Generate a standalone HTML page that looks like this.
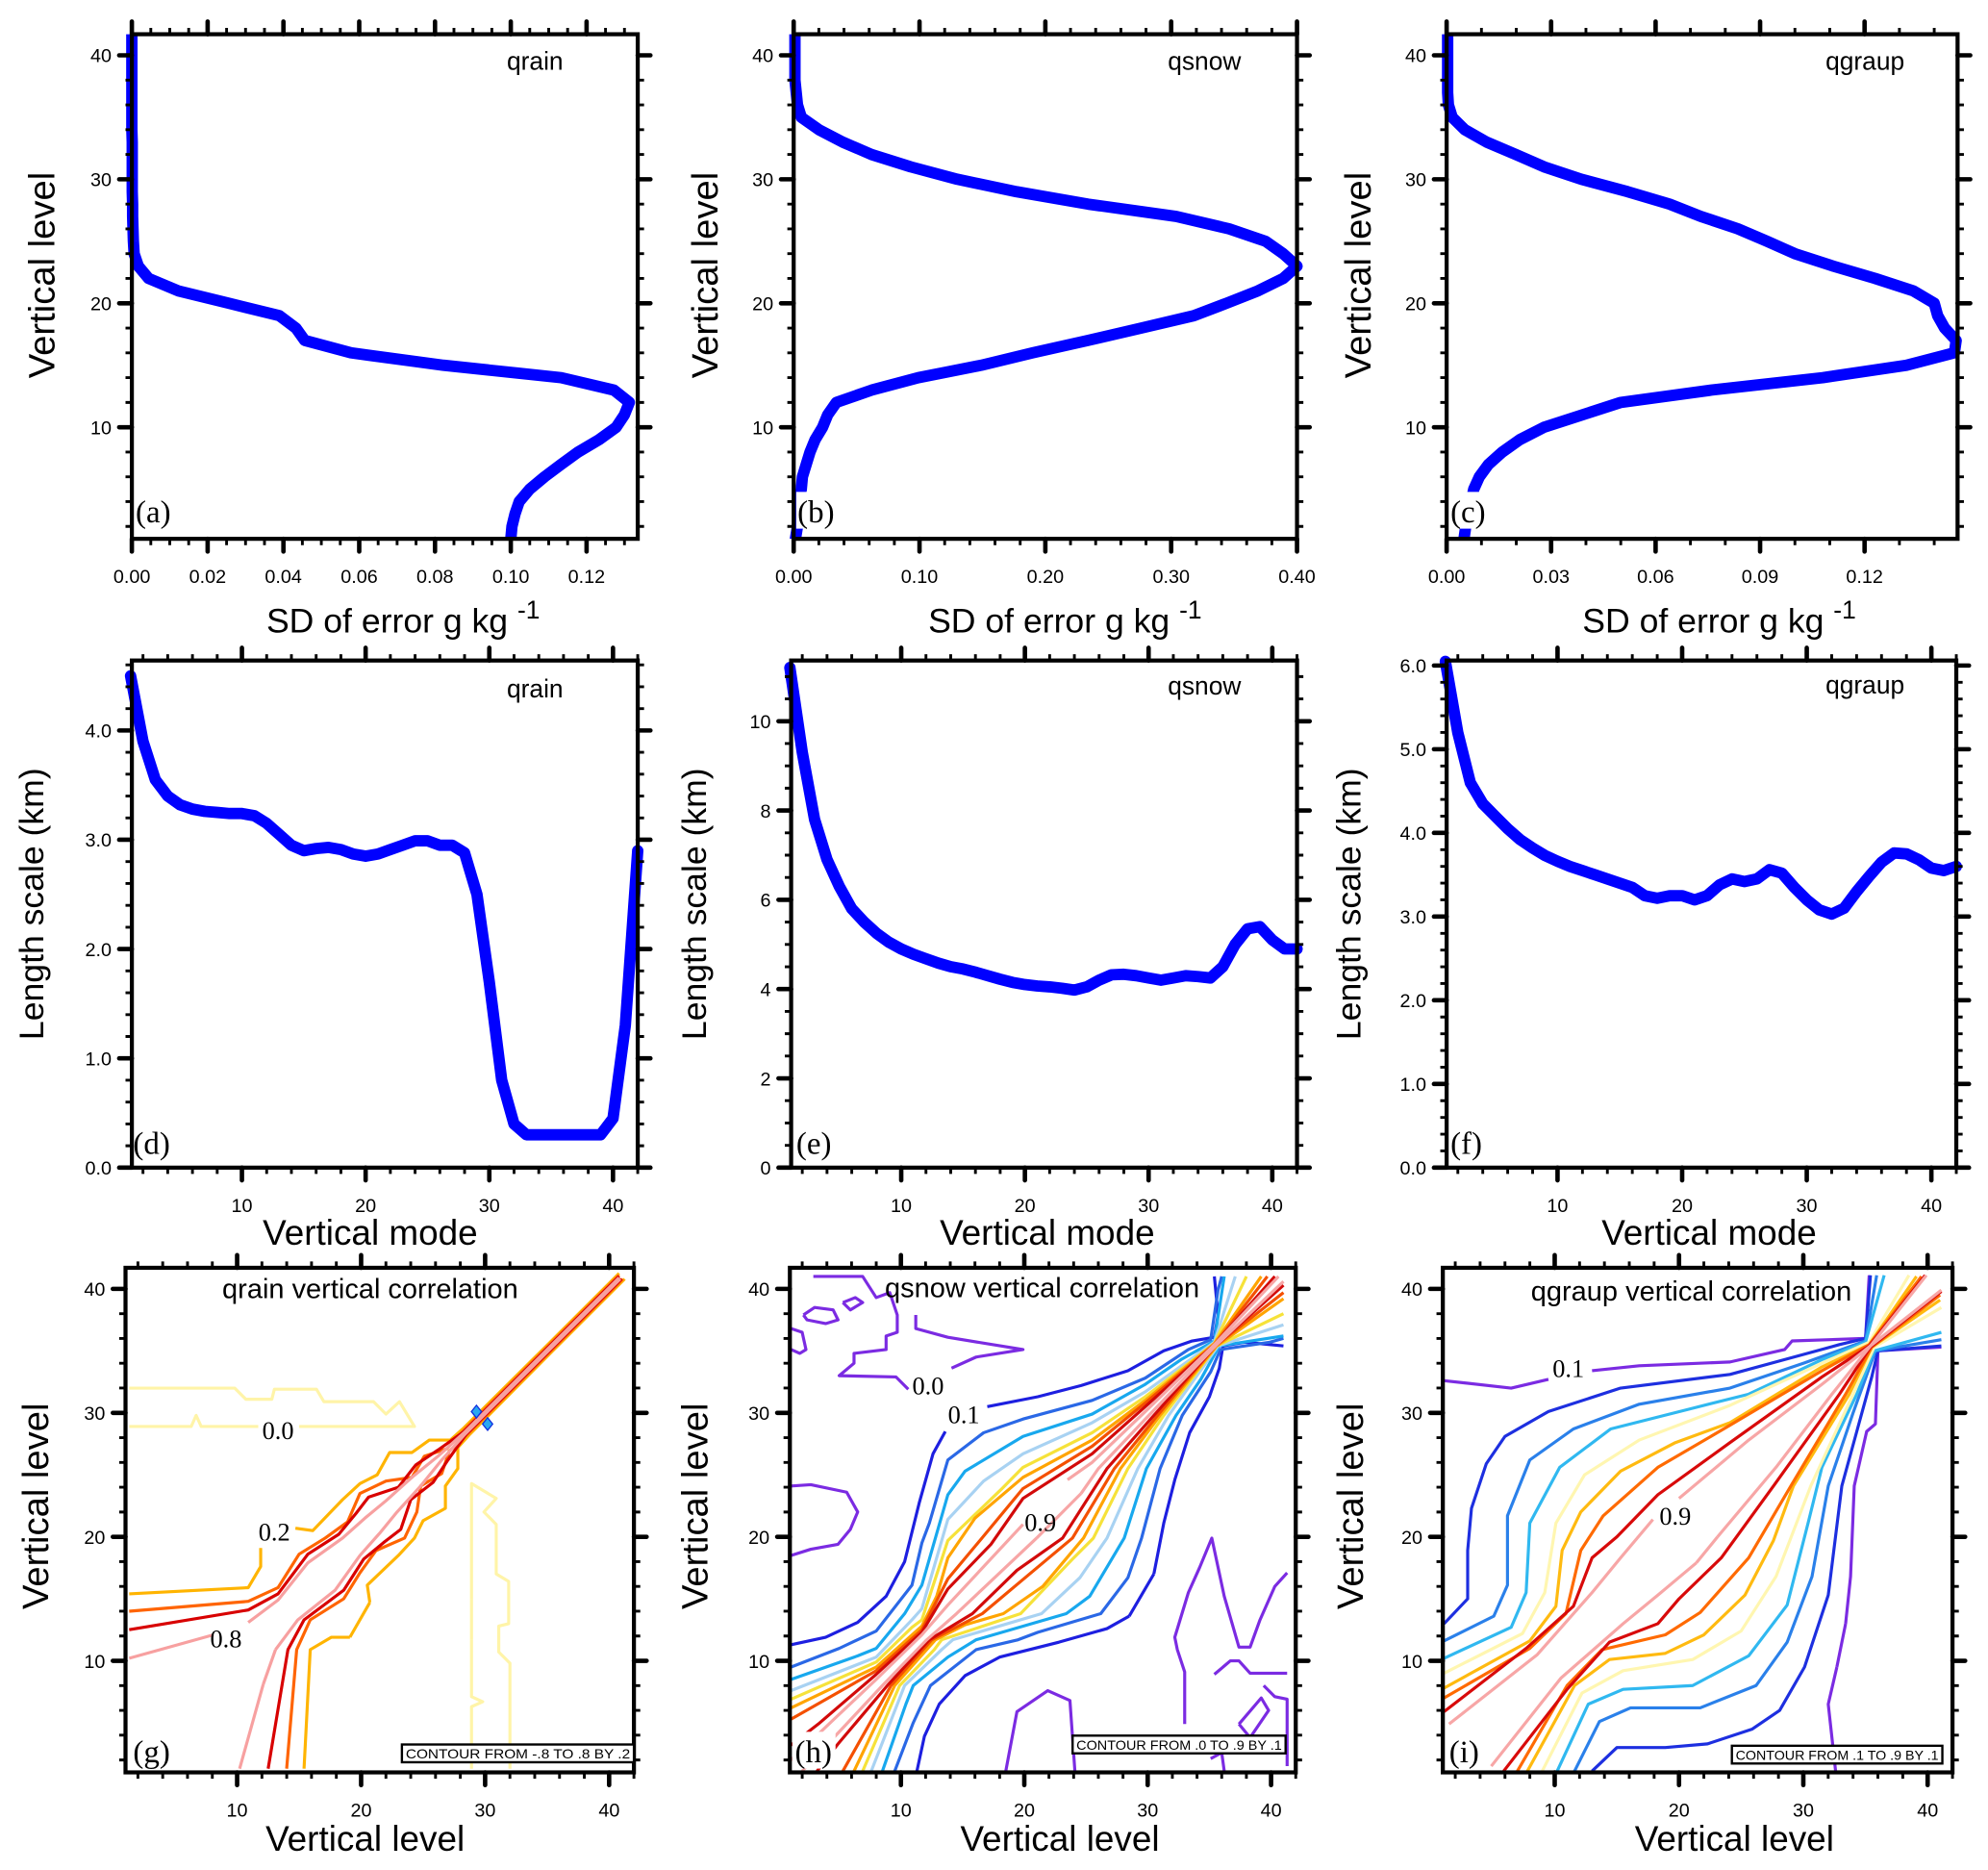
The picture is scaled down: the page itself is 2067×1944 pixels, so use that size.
<!DOCTYPE html>
<html><head><meta charset="utf-8"><title>Error statistics panels</title>
<style>
html,body{margin:0;padding:0;background:#fff;}
svg{display:block;}
text{font-family:"Liberation Sans",Arial,sans-serif;fill:#000;}
.serif{font-family:"Liberation Serif","Times New Roman",serif;}
</style></head>
<body>
<svg id="chart" xmlns="http://www.w3.org/2000/svg" width="2067" height="1944" viewBox="0 0 1568 1475" preserveAspectRatio="none"></svg>
<script>
// ---------- data ----------
const levels = [1,2,3,4,5,6,7,8,9,10,11,12,13,14,15,16,17,18,19,20,21,22,23,24,25,26,27,28,29,30,31,32,33,34,35,36,37,38,39,40,41,42];
const sdRain = [0.100,0.1003,0.1011,0.1022,0.105,0.1089,0.1133,0.1178,0.1233,0.1278,0.130,0.1313,0.1272,0.1133,0.0822,0.0578,0.0456,0.0433,0.0389,0.0256,0.0122,0.0044,0.0017,0.0006,0.0004,0.0003,0.0002,0.0002,0.0001,0.0001,0.0001,0.0001,0.0001,0,0,0,0,0,0,0,0,0];
const sdSnow = [0.0014,0.003,0.004,0.004,0.006,0.007,0.010,0.013,0.017,0.023,0.027,0.034,0.062,0.099,0.149,0.190,0.234,0.276,0.318,0.344,0.369,0.389,0.400,0.389,0.375,0.346,0.304,0.234,0.177,0.130,0.093,0.062,0.039,0.020,0.006,0.003,0.002,0.001,0.001,0.001,0.001,0.001];
const sdGraup = [0.005,0.0055,0.006,0.007,0.0078,0.0094,0.012,0.016,0.021,0.028,0.039,0.050,0.076,0.108,0.132,0.1458,0.1463,0.143,0.141,0.140,0.134,0.123,0.111,0.100,0.092,0.0836,0.073,0.064,0.052,0.0387,0.028,0.0199,0.0115,0.0052,0.0016,0.0005,0.0003,0.0003,0.0003,0.0003,0.0003,0.0003];
const modes = [1,2,3,4,5,6,7,8,9,10,11,12,13,14,15,16,17,18,19,20,21,22,23,24,25,26,27,28,29,30,31,32,33,34,35,36,37,38,39,40,41,42];
const lenRain = [4.5,3.9,3.55,3.4,3.32,3.28,3.26,3.25,3.24,3.24,3.22,3.15,3.05,2.95,2.90,2.92,2.93,2.91,2.87,2.85,2.87,2.91,2.95,2.99,2.99,2.95,2.95,2.88,2.5,1.7,0.8,0.4,0.3,0.3,0.3,0.3,0.3,0.3,0.3,0.45,1.3,2.9];
const lenSnow = [11.2,9.3,7.8,6.9,6.3,5.8,5.5,5.25,5.05,4.9,4.78,4.68,4.58,4.5,4.45,4.38,4.3,4.22,4.15,4.1,4.07,4.05,4.02,3.98,4.05,4.2,4.32,4.33,4.3,4.25,4.2,4.25,4.3,4.28,4.25,4.5,5.0,5.35,5.4,5.1,4.9,4.9];
const lenGraup = [6.05,5.2,4.6,4.35,4.2,4.05,3.92,3.82,3.73,3.66,3.6,3.55,3.5,3.45,3.4,3.35,3.25,3.22,3.25,3.25,3.2,3.25,3.38,3.45,3.42,3.45,3.56,3.52,3.35,3.2,3.08,3.03,3.1,3.3,3.48,3.65,3.76,3.75,3.68,3.58,3.55,3.6];

// tick labels
const aXTicks = [0,0.02,0.04,0.06,0.08,0.10,0.12];
const aXLabels = ['0.00','0.02','0.04','0.06','0.08','0.10','0.12'];
const bXTicks = [0,0.1,0.2,0.3,0.4];
const bXLabels = ['0.00','0.10','0.20','0.30','0.40'];
const cXTicks = [0,0.03,0.06,0.09,0.12];
const cXLabels = ['0.00','0.03','0.06','0.09','0.12'];
const levelTicks = [10,20,30,40];
const levelLabels = ['10','20','30','40'];
const dYTicks = [0,1,2,3,4];
const dYLabels = ['0.0','1.0','2.0','3.0','4.0'];
const eYTicks = [0,2,4,6,8,10];
const eYLabels = ['0','2','4','6','8','10'];
const fYTicks = [0,1,2,3,4,5,6];
const fYLabels = ['0.0','1.0','2.0','3.0','4.0','5.0','6.0'];

// contour levels (upper branch points [level_x, level_y]; lower branch is the mirror)
const gValues = [0.0,0.2,0.4,0.6,0.8];
const gC00 = [[[1.3,32],[9.8,32],[10.7,31.1],[12.8,31.1],[13,31.9],[16.4,31.9],[17,30.9],[21,30.9],[22,29.9],[23.1,30.9],[24.3,28.9],[15,28.9]],[[11.7,28.9],[7.1,28.9],[6.7,29.8],[6.3,28.9],[1.3,28.9]]];
const gC02 = [[[1.3,15.4],[10.9,15.9],[11.9,17.6],[11.9,19.1]],[[14.7,20.7],[16.1,20.5],[18.5,23],[19.9,24.3],[21.3,25],[22.3,26.8],[24.1,26.8],[25.5,27.8],[27.2,27.8],[28.2,28.7],[35,35.45],[40.8,41.25]]];
const gC04 = [[[1.3,14],[10.9,14.8],[13.3,15.9],[15,18.6],[17.1,19.9],[18.9,21.2],[19.9,23.5],[22,24.5],[24.1,24.8],[25.1,26.5],[26.9,27.1],[28.3,28.6],[35,35.3],[40.8,41.1]]];
const gC06 = [[[1.3,12.5],[10.9,14.1],[13.3,15.4],[15.7,18.6],[18.2,20.2],[19.6,21.9],[20.6,23.2],[23,24],[24.4,25.8],[26.2,27],[28.3,28.5],[35,35.2],[40.8,41]]];
const gC08 = [[[1.3,10.2],[8.1,12.1]],[[10.9,13.1],[13.3,14.9],[15.7,17.9],[18.5,19.9],[20.3,21.5],[22,22.9],[24.1,24.8],[26.2,26.5],[28.3,28.4],[35,35.1],[40.8,40.9]]];
// lower-branch bridges (no label gap below the diagonal)
const gBridges = [[0.0,[[28.9,15],[28.9,11.7]]],[0.2,[[19.1,11.9],[20.7,14.7]]],[0.8,[[12.1,8.1],[13.1,10.9]]]];

const hValues = [0.1,0.2,0.3,0.4,0.5,0.6,0.7,0.8,0.9];
const hC01 = [[[1.1,11.3],[3.9,11.9],[6.5,13.1],[8.8,15.2],[10.3,18],[11.5,22.8],[12.6,26.7],[13.6,28.5]],[[17,30.5],[21.1,31.3],[24.6,32.2],[28.4,33.4],[31.3,35],[33.6,35.8],[35.4,36.1],[35.7,37.9],[35.4,41]]];
const hC02 = [[[1.1,9.5],[5,11],[8,12.4],[10.9,16.1],[11.7,19.5],[12.3,21.1],[13.8,26.2],[16.7,28.4],[19.9,29.5],[25.5,31.0],[29.8,32.8],[33.3,35.1],[35.1,35.9],[35.7,39.9],[36,41]]];
const hC03 = [[[1.1,8.5],[6.5,10.4],[8,11.0],[10.3,13.8],[11.7,16.1],[13.8,23.4],[15.2,25.3],[19.9,28.1],[25.5,29.9],[29.8,32.3],[32.7,34.3],[35.4,35.8],[36.2,41]]];
const hC04 = [[[1.1,7.6],[8,10.3],[10.9,13.3],[11.7,14.2],[13.8,21.4],[16.7,24.5],[19.9,26.7],[25.5,29.2],[29.8,31.7],[35.4,35.7],[37.1,41]]];
const hC05 = [[[1.1,6.9],[8,9.9],[10.9,12.7],[11.7,13.3],[13.8,19.7],[18.2,23.9],[19.9,25.6],[25.5,28.4],[29.8,31.3],[35.4,35.6],[38,41]]];
const hC06 = [[[1.1,6.2],[8,9.5],[11.7,12.8],[12.9,15.2],[13.8,18.3],[16,21.5],[19.9,24.8],[25.5,27.8],[29.8,31.0],[35.4,35.6],[39.2,41]]];
const hC07 = [[[1.1,5.3],[8,9.2],[11.7,12.5],[13.8,16.6],[16.4,19.7],[19.9,23.9],[25.5,27.3],[29.8,30.8],[35.4,35.5],[39.7,41]]];
const hC08 = [[[1.1,3.2],[3.3,4.9],[8,8.9],[11.7,12.3],[13.8,15.8],[17.3,19.4],[19.9,23.1],[25.5,26.7],[29.8,30.5],[35.4,35.5],[40.3,41]]];
const hC09 = [[[1.1,2.0],[4.8,5.5],[8,8.5],[11.7,12.1],[13.8,14.5],[19.9,21.0]],[[23.5,24.6],[25.5,26.0],[29.8,30.1],[35.4,35.5],[40.6,41]]];
const hBridges = [[0.1,[[28.5,13.6],[30.5,17]]],[0.9,[[21.0,19.9],[24.6,23.5]]]];
const hZero = [
 [[2.9,41],[6.9,41],[8,39.3],[9.1,39.7],[9.7,37.9],[9.7,36.5],[8.8,36.2],[8.8,35.1],[6.2,34.8],[6.2,34],[5,33],[9.6,32.9],[10.6,31.9]],
 [[11.2,37.9],[11.2,36.8],[13.8,36.1],[19.9,35.1],[16.1,34.5],[14.1,33.6]],
 [[2.1,37.9],[3,38.5],[4.5,38.3],[4.9,37.5],[3.9,37.2],[2.4,37.5],[2.1,37.9]],
 [[5.3,38.9],[6.3,39.3],[6.9,38.9],[5.9,38.3],[5.3,38.9]],
 [[1.1,36.8],[2,36.5],[2.3,35.1],[1.8,34.8],[1.1,35.1]],
 [[1.1,24.1],[2.7,24.2],[5.6,23.6],[6.5,22],[5.9,20.6],[4.9,19.4],[2.7,19],[1.1,18.5]],
 [[18.5,1.1],[19.4,5.9],[21.9,7.6],[23.7,6.8],[24.1,1.1]],
 [[33,4.9],[33,9.1],[32.4,10.9],[32.2,11.9],[33.3,15.5],[34.2,17.5],[35.2,19.9],[36.2,15.2],[37.4,11.1],[38.3,11.1],[39.1,13.3],[40.3,16],[41.3,17.1]],
 [[35.4,8.9],[36.7,10],[37.4,10],[38.3,9],[41.3,9]],
 [[39.4,8],[40.3,7.1],[41.3,6.9],[41.3,1.5]],
 [[37.4,4.9],[39.2,7],[39.8,6],[38.3,3.8],[37.4,4.9]],
 [[35.1,2.1],[36,2.6],[36.2,1.1]]
];

const iValues = [0.1,0.2,0.3,0.4,0.5,0.6,0.7,0.8,0.9];
const iC01 = [[[1.1,32.6],[6.5,32],[9.5,32.7]],[[13,33.4],[16.8,33.8],[24.1,34.1],[28.5,35.1],[29.1,35.8],[35,36],[35.3,41.1]]];
const iC02 = [[[1.1,13],[3,15],[3,18.9],[3.3,22.3],[4.5,25.9],[6,28.1],[9.5,30.1],[15.3,32],[24.1,33.1],[28.5,34.3],[32.9,35.5],[35,36],[35.4,41.1]]];
const iC03 = [[[1.1,11.6],[5.1,13.6],[6.2,16.1],[6.2,21.7],[8,26.2],[11.5,28.7],[16.8,30.7],[24.1,32],[30,34],[35,35.8],[35.9,41.1]]];
const iC04 = [[[1.1,10.2],[6.5,12.7],[7.7,15.5],[8,21.1],[10.4,25.6],[14.5,28.7],[21.2,30.4],[25.6,31.5],[31.5,34.3],[35,35.7],[36.5,41.1]]];
const iC05 = [[[1.1,9],[7.4,12.2],[9.2,15.5],[10.1,21.1],[12.4,25],[16.8,27.8],[24.1,30.6],[31.5,34],[35.3,35.7],[38.5,41.1]]];
const iC06 = [[[1.1,7.8],[8,11.6],[10.1,14.4],[10.6,18.9],[12.1,22],[15.3,25.3],[19.7,27.6],[24.1,29.2],[31.5,33.7],[35.3,35.5],[39.1,41]]];
const iC07 = [[[1.1,7],[8,11],[10.9,13.8],[12.1,18.9],[13.9,21.7],[18.3,25.6],[24.1,29],[31.5,33.4],[35.3,35.5],[39.5,41]]];
const iC08 = [[[1.1,5.9],[7.7,11],[11.5,14.4],[13,18.3],[15,20],[18.3,23.4],[24.1,27.6],[31.5,32.9],[35.3,35.4],[39.8,41.1]]];
const iC09 = [[[1.5,4.9],[8.6,10.5],[13,15.5],[15.3,18.3],[17.9,21.4]],[[20,23.1],[25.6,27.8],[31.5,32.3],[35.4,35.4],[41.1,39.9]]];
const iBridges = [[0.1,[[32.7,9.5],[33.4,13]]],[0.9,[[21.4,17.9],[23.1,20]]]];

// ---------- drawing ----------
const NS = 'http://www.w3.org/2000/svg';
const svg = document.getElementById('chart');
function mk(tag, attrs, parent){
  const e = document.createElementNS(NS, tag);
  for (const k in attrs) e.setAttribute(k, attrs[k]);
  (parent || svg).appendChild(e);
  return e;
}
function scaleFn(d0, d1, p0, p1){ return v => p0 + (v - d0) / (d1 - d0) * (p1 - p0); }
function range(a, b, s){ const r=[]; for(let v=a; v<=b+1e-9; v+=s) r.push(+v.toFixed(6)); return r; }

const panels = [
 {id:'a', x0:104,x1:503,y0:27,y1:425, xd:[0,0.1335], yd:[1,41.7], xt:aXTicks, xl:aXLabels, xm:range(0,0.13,0.005), yt:levelTicks, yl:levelLabels, ym:range(2,40,2)},
 {id:'b', x0:626,x1:1023,y0:27,y1:425, xd:[0,0.40], yd:[1,41.7], xt:bXTicks, xl:bXLabels, xm:range(0,0.4,0.02), yt:levelTicks, yl:levelLabels, ym:range(2,40,2)},
 {id:'c', x0:1141,x1:1544,y0:27,y1:425, xd:[0,0.1467], yd:[1,41.7], xt:cXTicks, xl:cXLabels, xm:range(0,0.14,0.01), yt:levelTicks, yl:levelLabels, ym:range(2,40,2)},
 {id:'d', x0:104,x1:503,y0:521,y1:921, xd:[1.1,42], yd:[0,4.64], xt:levelTicks, xl:levelLabels, xm:range(2,42,2), yt:dYTicks, yl:dYLabels, ym:range(0,4.6,0.2)},
 {id:'e', x0:624,x1:1023,y0:521,y1:921, xd:[1.1,42], yd:[0,11.36], xt:levelTicks, xl:levelLabels, xm:range(2,42,2), yt:eYTicks, yl:eYLabels, ym:range(0,11,0.5)},
 {id:'f', x0:1141,x1:1543,y0:521,y1:921, xd:[1.1,42], yd:[0,6.06], xt:levelTicks, xl:levelLabels, xm:range(2,42,2), yt:fYTicks, yl:fYLabels, ym:range(0,6,0.2)},
 {id:'g', x0:99,x1:500,y0:1000,y1:1398, xd:[1,42], yd:[1,41.7], xt:levelTicks, xl:levelLabels, xm:range(2,42,2), yt:levelTicks, yl:levelLabels, ym:range(2,40,2)},
 {id:'h', x0:623,x1:1022,y0:1000,y1:1398, xd:[1,42], yd:[1,41.7], xt:levelTicks, xl:levelLabels, xm:range(2,42,2), yt:levelTicks, yl:levelLabels, ym:range(2,40,2)},
 {id:'i', x0:1138,x1:1540,y0:1000,y1:1398, xd:[1,42], yd:[1,41.7], xt:levelTicks, xl:levelLabels, xm:range(2,42,2), yt:levelTicks, yl:levelLabels, ym:range(2,40,2)}
];
panels.forEach(p => { p.sx = scaleFn(p.xd[0],p.xd[1],p.x0,p.x1); p.sy = scaleFn(p.yd[0],p.yd[1],p.y1,p.y0); });
const P = {}; panels.forEach(p => P[p.id] = p);

const defs = mk('defs', {});
panels.forEach(p => {
  const cp = mk('clipPath', {id:'clip-'+p.id}, defs);
  const pad = 'abcdef'.includes(p.id) ? 6 : 0;
  mk('rect', {x:p.x0-pad, y:p.y0 - ('def'.includes(p.id)?6:0), width:p.x1-p.x0+2*pad, height:p.y1-p.y0 + ('def'.includes(p.id)?6:0)}, cp);
});

function ptsStr(p, pts){ return pts.map(q => p.sx(q[0]).toFixed(1)+','+p.sy(q[1]).toFixed(1)).join(' '); }

function drawProfile(p, xs, ys, name){
  const g = mk('g', {'clip-path':'url(#clip-'+p.id+')'});
  const pts = xs.map((x,i)=>[x, ys[i]]);
  const pl = mk('polyline', {points: ptsStr(p, pts), fill:'none', stroke:'#0000ff', 'stroke-width':9, 'stroke-linejoin':'round', 'stroke-linecap':'round'}, g);
  
  
}
drawProfile(P.a, sdRain, levels, 'qrain-sd-profile');
drawProfile(P.b, sdSnow, levels, 'qsnow-sd-profile');
drawProfile(P.c, sdGraup, levels, 'qgraup-sd-profile');
drawProfile(P.d, modes, lenRain, 'qrain-length-scale-line');
drawProfile(P.e, modes, lenSnow, 'qsnow-length-scale-line');
drawProfile(P.f, modes, lenGraup, 'qgraup-length-scale-line');

const gColors = {'0':'#fff4a8','0.2':'#ffb400','0.4':'#ff6400','0.6':'#d80000','0.8':'#f7a0a0'};
const hColors = {'0':'#7b2be2','0.1':'#1d1fe0','0.2':'#2a68e6','0.3':'#18a8ee','0.4':'#a8d2f2','0.5':'#f6e23a','0.6':'#ffa400','0.7':'#f45000','0.8':'#d20a0a','0.9':'#f7a6a6'};
const iColors = {'0.1':'#7b2be2','0.2':'#1d2fe0','0.3':'#2a80ea','0.4':'#30b8f0','0.5':'#fff6b0','0.6':'#ffba10','0.7':'#ff6a00','0.8':'#d80a0a','0.9':'#f7a6a6'};

function drawContour(p, segs, color, name, mirror){
  const g = mk('g', {'clip-path':'url(#clip-'+p.id+')'});
  
  
  segs.forEach(seg => {
    const a = mk('polyline', {points: ptsStr(p, seg), fill:'none', stroke:color, 'stroke-width':2.4, 'stroke-linejoin':'round'}, g);
    
    
    if (mirror) {
      const b = mk('polyline', {points: ptsStr(p, seg.map(q=>[q[1],q[0]])), fill:'none', stroke:color, 'stroke-width':2.4, 'stroke-linejoin':'round'}, g);
      
      
    }
  });
}
[gC00,gC02,gC04,gC06,gC08].forEach((c,k)=>drawContour(P.g, c, gColors[String(gValues[k])], 'qrain-contour-'+gValues[k], true));
gBridges.forEach(b => drawContour(P.g, [b[1]], gColors[String(b[0])], 'qrain-contour-bridge-'+b[0], false));
[[29.3,30.1],[30.2,29.1]].forEach(q => {
  const cx = P.g.sx(q[0]), cy = P.g.sy(q[1]);
  const dm = mk('polygon', {points:`${cx},${cy-5} ${cx+4},${cy} ${cx},${cy+5} ${cx-4},${cy}`, fill:'#2aa8f0', stroke:'#1030e0', 'stroke-width':1});
  
  
});
hZero.forEach((seg,k)=>drawContour(P.h, [seg], hColors['0'], 'qsnow-contour-0.0-'+k, false));
[hC01,hC02,hC03,hC04,hC05,hC06,hC07,hC08,hC09].forEach((c,k)=>drawContour(P.h, c, hColors[String(hValues[k])], 'qsnow-contour-'+hValues[k], true));
hBridges.forEach(b => drawContour(P.h, [b[1]], hColors[String(b[0])], 'qsnow-contour-bridge-'+b[0], false));
[iC01,iC02,iC03,iC04,iC05,iC06,iC07,iC08,iC09].forEach((c,k)=>drawContour(P.i, c, iColors[String(iValues[k])], 'qgraup-contour-'+iValues[k], true));
iBridges.forEach(b => drawContour(P.i, [b[1]], iColors[String(b[0])], 'qgraup-contour-bridge-'+b[0], false));

function clabel(p, x, y, txt, name){
  const t = mk('text', {x:p.sx(x), y:p.sy(y)+7, 'font-size':20, 'text-anchor':'middle', class:'serif'});
  t.textContent = txt;
  
  
}
clabel(P.g, 13.3, 28.6, '0.0', 'contour-label-0.0');
clabel(P.g, 13, 20.4, '0.2', 'contour-label-0.2');
clabel(P.g, 9.1, 11.8, '0.8', 'contour-label-0.8');
clabel(P.h, 12.2, 32.2, '0.0', 'contour-label-0.0');
clabel(P.h, 15.1, 29.9, '0.1', 'contour-label-0.1');
clabel(P.h, 21.3, 21.2, '0.9', 'contour-label-0.9');
clabel(P.i, 11.1, 33.6, '0.1', 'contour-label-0.1');
clabel(P.i, 19.7, 21.7, '0.9', 'contour-label-0.9');

panels.forEach(p => {
  const g = mk('g', {});
  
  
  const fr = mk('rect', {x:p.x0, y:p.y0, width:p.x1-p.x0, height:p.y1-p.y0, fill:'none', stroke:'#000', 'stroke-width':3.2}, g);
  
  
  let d = '';
  p.xm.forEach(v => { const x=p.sx(v); if(x<p.x0-0.5||x>p.x1+0.5) return; d += `M${x},${p.y1}v5M${x},${p.y0}v-5`; });
  p.ym.forEach(v => { const y=p.sy(v); if(y<p.y0-0.5||y>p.y1+0.5) return; d += `M${p.x0},${y}h-5M${p.x1},${y}h5`; });
  mk('path', {d:d, stroke:'#000', 'stroke-width':2.2, fill:'none'}, g);
  let D = '';
  p.xt.forEach(v => { const x=p.sx(v); D += `M${x},${p.y1}v10M${x},${p.y0}v-10`; });
  p.yt.forEach(v => { const y=p.sy(v); D += `M${p.x0},${y}h-10M${p.x1},${y}h10`; });
  mk('path', {d:D, stroke:'#000', 'stroke-width':3.5, fill:'none', 'stroke-linecap':'round'}, g);
  p.xt.forEach((v,k) => {
    const t = mk('text', {x:p.sx(v), y:p.y1+35, 'font-size':15, 'text-anchor':'middle'}, g);
    t.textContent = p.xl[k];
    
    
  });
  p.yt.forEach((v,k) => {
    const t = mk('text', {x:p.x0-16, y:p.sy(v)+5.5, 'font-size':15, 'text-anchor':'end'}, g);
    t.textContent = p.yl[k];
    
    
  });
});

const letters = {a:[107,412],b:[629,412],c:[1144,412],d:[105,910],e:[628,910],f:[1144,910],g:[105,1390],h:[627,1390],i:[1143,1390]};
Object.keys(letters).forEach(k => {
  const p = P[k], pos = letters[k];
  const bg = mk('rect', {x:p.x0+2, y:pos[1]-24, width:34, height:29, fill:'#fff'});
  
  
  const t = mk('text', {x:pos[0], y:pos[1], 'font-size':25, class:'serif'});
  t.textContent = '('+k+')';
  
  
});

function title(x, y, txt, name, size, anchor){
  const t = mk('text', {x:x, y:y, 'font-size':size, 'text-anchor':anchor||'middle'});
  t.textContent = txt;
  
  
  return t;
}
title(422, 55, 'qrain', 'panel-a-title', 20);
title(950, 55, 'qsnow', 'panel-b-title', 20);
title(1471, 55, 'qgraup', 'panel-c-title', 20);
title(422, 550, 'qrain', 'panel-d-title', 20);
title(950, 548, 'qsnow', 'panel-e-title', 20);
title(1471, 547, 'qgraup', 'panel-f-title', 20);
title(292, 1024, 'qrain vertical correlation', 'panel-g-title', 22);
title(822, 1023, 'qsnow vertical correlation', 'panel-h-title', 22);
title(1334, 1026, 'qgraup vertical correlation', 'panel-i-title', 22);

[['g',317,500,'CONTOUR FROM -.8 TO .8 BY .2',1376],['h',846,1014,'CONTOUR FROM .0 TO .9 BY .1',1369],['i',1366,1532,'CONTOUR FROM .1 TO .9 BY .1',1377]].forEach(b => {
  const r = mk('rect', {x:b[1], y:b[4], width:b[2]-b[1], height:14, fill:'#fff', stroke:'#000', 'stroke-width':1.8});
  
  
  const t = mk('text', {x:(b[1]+b[2])/2, y:b[4]+11, 'font-size':10.5, 'text-anchor':'middle', textLength:b[2]-b[1]-6, lengthAdjust:'spacingAndGlyphs'});
  t.textContent = b[3];
  
  
});

function ytitle(x, y, txt, name, size){
  const t = mk('text', {x:x, y:y, 'font-size':size||27, 'text-anchor':'middle', transform:`rotate(-90 ${x} ${y})`});
  t.textContent = txt;
  
  
}
ytitle(43, 217, 'Vertical  level', 'y-axis-title-a', 29);
ytitle(566, 217, 'Vertical  level', 'y-axis-title-b', 29);
ytitle(1081, 217, 'Vertical  level', 'y-axis-title-c', 29);
ytitle(34, 713, 'Length  scale (km)', 'y-axis-title-d');
ytitle(557, 713, 'Length  scale (km)', 'y-axis-title-e');
ytitle(1073, 713, 'Length  scale (km)', 'y-axis-title-f');
ytitle(38, 1188, 'Vertical  level', 'y-axis-title-g', 29);
ytitle(558, 1188, 'Vertical  level', 'y-axis-title-h', 29);
ytitle(1075, 1188, 'Vertical  level', 'y-axis-title-i', 29);

[[318,'a'],[840,'b'],[1356,'c']].forEach(q => {
  const t = title(q[0], 499, '', 'x-axis-title-'+q[1], 27);
  const s1 = mk('tspan', {}, t); s1.textContent = 'SD of error g kg ';
  const s2 = mk('tspan', {dy:-11, 'font-size':20}, t); s2.textContent = '-1';
});
title(292, 982, 'Vertical mode', 'x-axis-title-d', 28);
title(826, 982, 'Vertical mode', 'x-axis-title-e', 28);
title(1348, 982, 'Vertical mode', 'x-axis-title-f', 28);
title(288, 1460, 'Vertical  level', 'x-axis-title-g', 28);
title(836, 1460, 'Vertical  level', 'x-axis-title-h', 28);
title(1368, 1460, 'Vertical  level', 'x-axis-title-i', 28);
</script>
</body></html>
